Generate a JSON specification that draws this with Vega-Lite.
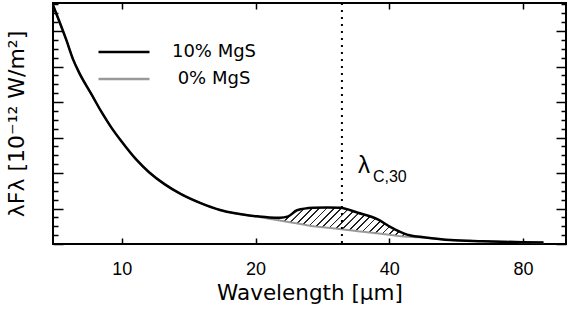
{
  "$schema": "https://vega.github.io/schema/vega-lite/v6.json",
  "width": 513,
  "height": 241,
  "autosize": {"type": "none"},
  "padding": {"left": 53, "top": 3, "right": 1, "bottom": 71},
  "config": {
    "font": "Liberation Sans",
    "view": {"stroke": "black", "strokeWidth": 2},
    "axis": {"grid": false, "domain": false, "tickColor": "black", "labelColor": "black", "titleColor": "black", "titleFontWeight": "normal"}
  },
  "data": {
    "values": [
      {"wl": 7.0, "hi": 6.73, "lo": 6.73},
      {"wl": 7.5, "hi": 5.75, "lo": 5.75},
      {"wl": 7.78, "hi": 5.18, "lo": 5.18},
      {"wl": 8.0, "hi": 4.85, "lo": 4.85},
      {"wl": 8.56, "hi": 4.2, "lo": 4.2},
      {"wl": 9.0, "hi": 3.72, "lo": 3.72},
      {"wl": 9.45, "hi": 3.3, "lo": 3.3},
      {"wl": 10.0, "hi": 2.88, "lo": 2.88},
      {"wl": 10.76, "hi": 2.39, "lo": 2.39},
      {"wl": 11.5, "hi": 2.03, "lo": 2.03},
      {"wl": 12.5, "hi": 1.68, "lo": 1.68},
      {"wl": 13.53, "hi": 1.42, "lo": 1.42},
      {"wl": 15.0, "hi": 1.16, "lo": 1.16},
      {"wl": 16.64, "hi": 0.96, "lo": 0.96},
      {"wl": 18.0, "hi": 0.865, "lo": 0.865},
      {"wl": 19.2, "hi": 0.81, "lo": 0.81},
      {"wl": 20.2, "hi": 0.78, "lo": 0.77},
      {"wl": 21.5, "hi": 0.75, "lo": 0.71},
      {"wl": 22.7, "hi": 0.74, "lo": 0.66},
      {"wl": 23.7, "hi": 0.78, "lo": 0.62},
      {"wl": 24.8, "hi": 0.95, "lo": 0.58},
      {"wl": 27.0, "hi": 1.02, "lo": 0.50},
      {"wl": 29.0, "hi": 1.03, "lo": 0.46},
      {"wl": 31.0, "hi": 1.02, "lo": 0.42},
      {"wl": 34.0, "hi": 0.88, "lo": 0.36},
      {"wl": 37.6, "hi": 0.70, "lo": 0.30},
      {"wl": 40.5, "hi": 0.46, "lo": 0.25},
      {"wl": 43.1, "hi": 0.30, "lo": 0.21},
      {"wl": 44.7, "hi": 0.24, "lo": 0.20},
      {"wl": 47.8, "hi": 0.19, "lo": 0.18},
      {"wl": 55.0, "hi": 0.11, "lo": 0.11},
      {"wl": 65.0, "hi": 0.08, "lo": 0.08},
      {"wl": 80.0, "hi": 0.05, "lo": 0.05},
      {"wl": 89.0, "hi": 0.04, "lo": 0.04}
    ]
  },
  "resolve": {"axis": {"x": "independent", "y": "independent"}},
  "layer": [
    {
      "transform": [{"filter": "datum.wl >= 21.5 && datum.wl <= 47.8"}],
      "mark": {
        "type": "area",
        "interpolate": "monotone",
        "fill": {
          "gradient": "linear", "x1": 0, "y1": 0, "x2": 1.152, "y2": 0.226,
          "stops": [
            {"offset": 0, "color": "white"}, {"offset": 0.03, "color": "white"}, {"offset": 0.0305, "color": "#222"}, {"offset": 0.0395, "color": "#222"},
            {"offset": 0.04, "color": "white"}, {"offset": 0.07, "color": "white"}, {"offset": 0.0705, "color": "#222"}, {"offset": 0.0795, "color": "#222"},
            {"offset": 0.08, "color": "white"}, {"offset": 0.11, "color": "white"}, {"offset": 0.1105, "color": "#222"}, {"offset": 0.1195, "color": "#222"},
            {"offset": 0.12, "color": "white"}, {"offset": 0.15, "color": "white"}, {"offset": 0.1505, "color": "#222"}, {"offset": 0.1595, "color": "#222"},
            {"offset": 0.16, "color": "white"}, {"offset": 0.19, "color": "white"}, {"offset": 0.1905, "color": "#222"}, {"offset": 0.1995, "color": "#222"},
            {"offset": 0.20, "color": "white"}, {"offset": 0.23, "color": "white"}, {"offset": 0.2305, "color": "#222"}, {"offset": 0.2395, "color": "#222"},
            {"offset": 0.24, "color": "white"}, {"offset": 0.27, "color": "white"}, {"offset": 0.2705, "color": "#222"}, {"offset": 0.2795, "color": "#222"},
            {"offset": 0.28, "color": "white"}, {"offset": 0.31, "color": "white"}, {"offset": 0.3105, "color": "#222"}, {"offset": 0.3195, "color": "#222"},
            {"offset": 0.32, "color": "white"}, {"offset": 0.35, "color": "white"}, {"offset": 0.3505, "color": "#222"}, {"offset": 0.3595, "color": "#222"},
            {"offset": 0.36, "color": "white"}, {"offset": 0.39, "color": "white"}, {"offset": 0.3905, "color": "#222"}, {"offset": 0.3995, "color": "#222"},
            {"offset": 0.40, "color": "white"}, {"offset": 0.43, "color": "white"}, {"offset": 0.4305, "color": "#222"}, {"offset": 0.4395, "color": "#222"},
            {"offset": 0.44, "color": "white"}, {"offset": 0.47, "color": "white"}, {"offset": 0.4705, "color": "#222"}, {"offset": 0.4795, "color": "#222"},
            {"offset": 0.48, "color": "white"}, {"offset": 0.51, "color": "white"}, {"offset": 0.5105, "color": "#222"}, {"offset": 0.5195, "color": "#222"},
            {"offset": 0.52, "color": "white"}, {"offset": 0.55, "color": "white"}, {"offset": 0.5505, "color": "#222"}, {"offset": 0.5595, "color": "#222"},
            {"offset": 0.56, "color": "white"}, {"offset": 0.59, "color": "white"}, {"offset": 0.5905, "color": "#222"}, {"offset": 0.5995, "color": "#222"},
            {"offset": 0.60, "color": "white"}, {"offset": 0.63, "color": "white"}, {"offset": 0.6305, "color": "#222"}, {"offset": 0.6395, "color": "#222"},
            {"offset": 0.64, "color": "white"}, {"offset": 0.67, "color": "white"}, {"offset": 0.6705, "color": "#222"}, {"offset": 0.6795, "color": "#222"},
            {"offset": 0.68, "color": "white"}, {"offset": 0.71, "color": "white"}, {"offset": 0.7105, "color": "#222"}, {"offset": 0.7195, "color": "#222"},
            {"offset": 0.72, "color": "white"}, {"offset": 0.75, "color": "white"}, {"offset": 0.7505, "color": "#222"}, {"offset": 0.7595, "color": "#222"},
            {"offset": 0.76, "color": "white"}, {"offset": 0.79, "color": "white"}, {"offset": 0.7905, "color": "#222"}, {"offset": 0.7995, "color": "#222"},
            {"offset": 0.80, "color": "white"}, {"offset": 0.83, "color": "white"}, {"offset": 0.8305, "color": "#222"}, {"offset": 0.8395, "color": "#222"},
            {"offset": 0.84, "color": "white"}, {"offset": 0.87, "color": "white"}, {"offset": 0.8705, "color": "#222"}, {"offset": 0.8795, "color": "#222"},
            {"offset": 0.88, "color": "white"}, {"offset": 0.91, "color": "white"}, {"offset": 0.9105, "color": "#222"}, {"offset": 0.9195, "color": "#222"},
            {"offset": 0.92, "color": "white"}, {"offset": 0.95, "color": "white"}, {"offset": 0.9505, "color": "#222"}, {"offset": 0.9595, "color": "#222"},
            {"offset": 0.96, "color": "white"}, {"offset": 0.99, "color": "white"}, {"offset": 0.9905, "color": "#222"}, {"offset": 0.9995, "color": "#222"},
            {"offset": 1.0, "color": "white"}
          ]
        }
      },
      "encoding": {
        "x": {
          "field": "wl", "type": "quantitative",
          "scale": {"type": "log", "domain": [7, 100], "nice": false},
          "axis": {"orient": "bottom", "values": [10, 20, 40, 80], "format": "d", "tickSize": -6, "tickWidth": 1.5, "labelPadding": 22, "labelFontSize": 18, "title": "Wavelength [μm]", "titleFont": "DejaVu Sans", "titleFontSize": 21.5, "titlePadding": 4}
        },
        "y": {
          "field": "hi", "type": "quantitative",
          "scale": {"domain": [0, 6.79], "nice": false, "zero": false},
          "axis": {"orient": "left", "values": [0, 1, 2, 3, 4, 5, 6], "labels": false, "tickSize": -10, "tickWidth": 1.5, "title": "λFλ [10⁻¹² W/m²]", "titleFont": "DejaVu Sans", "titleFontSize": 22, "titlePadding": 24}
        },
        "y2": {"field": "lo"}
      }
    },
    {
      "mark": {"type": "line", "strokeWidth": 2, "interpolate": "monotone", "color": "#999999"},
      "encoding": {
        "x": {"field": "wl", "type": "quantitative", "axis": {"orient": "top", "values": [10, 20, 40, 80], "labels": false, "tickSize": -6, "tickWidth": 1.5, "title": null}},
        "y": {"field": "lo", "type": "quantitative", "axis": {"orient": "right", "values": [0, 1, 2, 3, 4, 5, 6], "labels": false, "tickSize": -10, "tickWidth": 1.5, "title": null}},
        "strokeDash": {
          "datum": "0% MgS",
          "scale": {"domain": ["0% MgS"], "range": [[1, 0]]},
          "legend": {
            "orient": "none", "legendX": 44, "legendY": 49, "title": null, "padding": 0,
            "symbolType": "stroke", "symbolSize": 2601, "symbolStrokeWidth": 2.5, "symbolStrokeColor": "#999999",
            "labelFont": "DejaVu Sans", "labelFontSize": 18, "labelAlign": "center", "labelOffset": 63, "labelColor": "black"
          }
        }
      }
    },
    {
      "mark": {"type": "line", "strokeWidth": 2.5, "interpolate": "monotone"},
      "encoding": {
        "x": {"field": "wl", "type": "quantitative", "axis": null},
        "y": {"field": "hi", "type": "quantitative", "axis": {"orient": "left", "values": [0.25, 0.5, 0.75, 1.25, 1.5, 1.75, 2.25, 2.5, 2.75, 3.25, 3.5, 3.75, 4.25, 4.5, 4.75, 5.25, 5.5, 5.75, 6.25, 6.5, 6.75], "labels": false, "tickSize": -5, "tickWidth": 1.5, "title": null}},
        "color": {
          "datum": "10% MgS",
          "scale": {"domain": ["10% MgS"], "range": ["black"]},
          "legend": {
            "orient": "none", "legendX": 44, "legendY": 22, "title": null, "padding": 0,
            "symbolType": "stroke", "symbolSize": 2601, "symbolStrokeWidth": 2.5,
            "labelFont": "DejaVu Sans", "labelFontSize": 18, "labelAlign": "center", "labelOffset": 63, "labelColor": "black"
          }
        }
      }
    },
    {
      "data": {"values": [{}]},
      "mark": {"type": "rule", "strokeDash": [2, 5], "strokeWidth": 2, "color": "black"},
      "encoding": {
        "x": {"datum": 31.3, "type": "quantitative", "axis": null}
      }
    },
    {
      "data": {"values": [{}]},
      "mark": {"type": "text", "text": "λ", "fontSize": 24, "align": "left", "baseline": "alphabetic", "dx": 16, "fill": "black"},
      "encoding": {
        "x": {"datum": 31.3, "type": "quantitative", "axis": null},
        "y": {"datum": 2.0, "type": "quantitative", "axis": {"orient": "right", "values": [0.25, 0.5, 0.75, 1.25, 1.5, 1.75, 2.25, 2.5, 2.75, 3.25, 3.5, 3.75, 4.25, 4.5, 4.75, 5.25, 5.5, 5.75, 6.25, 6.5, 6.75], "labels": false, "tickSize": -5, "tickWidth": 1.5, "title": null}}
      }
    },
    {
      "data": {"values": [{}]},
      "mark": {"type": "text", "text": "C,30", "fontSize": 16, "align": "left", "baseline": "alphabetic", "dx": 31, "dy": 9, "fill": "black"},
      "encoding": {
        "x": {"datum": 31.3, "type": "quantitative", "axis": null},
        "y": {"datum": 2.0, "type": "quantitative", "axis": null}
      }
    }
  ]
}
